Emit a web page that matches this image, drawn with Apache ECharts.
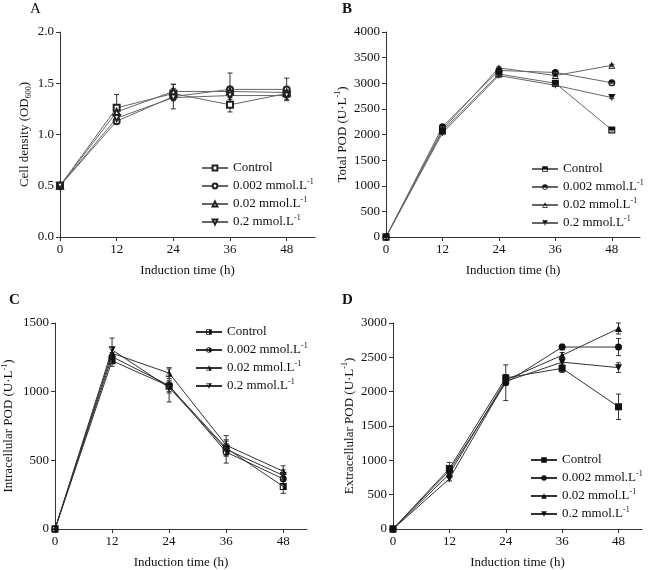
<!DOCTYPE html>
<html>
<head>
<meta charset="utf-8">
<script src="https://cdn.jsdelivr.net/npm/echarts@6/dist/echarts.min.js"></script>
<style>
  html, body { margin: 0; padding: 0; background: #fff; }
  #main { width: 650px; height: 570px; }
</style>
</head>
<body>
<div id="main"></div>
<script>
// induction time (h)
var hours = [0, 12, 24, 36, 48];
var groups = ['Control', '0.002 mmol.L-1', '0.02 mmol.L-1', '0.2 mmol.L-1'];

// A: cell density (OD600)
var densityMean = [
    [0.5, 1.26, 1.40, 1.29, 1.40],
    [0.5, 1.13, 1.37, 1.44, 1.44],
    [0.5, 1.22, 1.42, 1.42, 1.41],
    [0.5, 1.16, 1.36, 1.38, 1.38]
];
var densityErr = [
    [0, 0.13, 0.05, 0.07, 0.04],
    [0, 0.03, 0.12, 0.16, 0.11],
    [0, 0.05, 0.07, 0.05, 0.03],
    [0, 0.04, 0.03, 0.04, 0.04]
];

// B: total POD (U·L-1)
var totalMean = [
    [0, 2070, 3180, 3000, 2090],
    [0, 2150, 3250, 3210, 3010],
    [0, 2100, 3300, 3150, 3350],
    [0, 2030, 3150, 2960, 2720]
];
var totalErr = [
    [0, 20, 20, 20, 20],
    [0, 20, 20, 20, 20],
    [0, 20, 20, 20, 20],
    [0, 20, 20, 20, 20]
];

// C: intracellular POD
var intraMean = [
    [0, 1225, 1040, 590, 310],
    [0, 1255, 1045, 560, 365],
    [0, 1280, 1135, 610, 420],
    [0, 1305, 1030, 580, 390]
];
var intraErr = [
    [0, 40, 40, 60, 50],
    [0, 30, 120, 80, 40],
    [0, 40, 40, 70, 40],
    [0, 85, 40, 40, 40]
];

// D: extracellular POD
var extraMean = [
    [0, 880, 2200, 2340, 1780],
    [0, 850, 2130, 2650, 2650],
    [0, 800, 2170, 2530, 2920],
    [0, 730, 2150, 2430, 2350]
];
var extraErr = [
    [0, 90, 50, 60, 185],
    [0, 50, 260, 40, 125],
    [0, 40, 60, 40, 80],
    [0, 30, 40, 50, 70]
];

var FONT = 'Liberation Serif';
var INK = '#111';

// half filled markers (outer shape minus a hole)
var SYM = {
    sqTop: 'path://M0,0H10V10H0Z M1.5,5V8.5H8.5V5Z',
    ciTop: 'path://M0,5A5,5,0,1,1,10,5A5,5,0,1,1,0,5Z M1.5,5A3.5,3.5,0,0,0,8.5,5Z',
    trTop: 'path://M5,0L10,10L0,10Z M3,5.5L1.9,8.6L8.1,8.6L7,5.5Z',
    itTop: 'path://M0,0L10,0L5,10Z M3.4,5L5,8L6.6,5Z',
    sqRight: 'path://M0,0H10V10H0Z M1.5,1.5V8.5H5V1.5Z',
    ciRight: 'path://M0,5A5,5,0,1,1,10,5A5,5,0,1,1,0,5Z M5,1.5A3.5,3.5,0,0,0,5,8.5Z',
    trRight: 'path://M5,0L10,10L0,10Z M4.6,2.5L1.3,8.8L4.6,8.8Z',
    itRight: 'path://M0,0L10,0L5,10Z M1.5,1.2L4.6,7.6L4.6,1.2Z'
};

var panels = [
    { key: 'A', mean: densityMean, err: densityErr, max: 2, step: 0.5, xMax: 54,
      grid: { left: 60, top: 32, width: 255, height: 205 },
      legend: { left: 201, top: 160 },
      yName: 'Cell density (OD{sub|600})', yGap: 27, fmt: function (v) { return v.toFixed(1); },
      symbols: [['emptyRect', 0], ['emptyCircle', 0], ['emptyTriangle', 0], ['emptyTriangle', 180]],
      hollow: true, line: '#666' },
    { key: 'B', mean: totalMean, err: totalErr, max: 4000, step: 500, xMax: 54,
      grid: { left: 386, top: 32, width: 254, height: 205 },
      legend: { left: 531, top: 161 },
      yName: 'Total POD (U·L{sup|-1})', yGap: 32, fmt: function (v) { return String(v); },
      symbols: [[SYM.sqTop, 0], [SYM.ciTop, 0], [SYM.trTop, 0], [SYM.itTop, 0]],
      hollow: false, line: '#666' },
    { key: 'C', mean: intraMean, err: intraErr, max: 1500, step: 500, xMax: 53,
      grid: { left: 53, top: 323, width: 254, height: 206 },
      legend: { left: 195, top: 324 },
      yName: 'Intracellular POD (U·L{sup|-1})', yGap: 38, fmt: function (v) { return String(v); },
      symbols: [[SYM.sqRight, 0], [SYM.ciRight, 0], [SYM.trRight, 0], [SYM.itRight, 0]],
      hollow: false, line: '#333' },
    { key: 'D', mean: extraMean, err: extraErr, max: 3000, step: 500, xMax: 53,
      grid: { left: 393, top: 323, width: 249, height: 206 },
      legend: { left: 530, top: 452 },
      yName: 'Extracellular POD (U·L{sup|-1})', yGap: 29, fmt: function (v) { return String(v); },
      symbols: [['rect', 0], ['circle', 0], ['triangle', 0], ['triangle', 180]],
      hollow: false, line: '#333' }
];

var richText = {
    sup: { fontSize: 8, fontFamily: FONT, color: INK, verticalAlign: 'top', lineHeight: 16 },
    sub: { fontSize: 8, fontFamily: FONT, color: INK, verticalAlign: 'bottom', lineHeight: 16 }
};

function errorBars(params, api) {
    var x = api.value(0), y = api.value(1), e = api.value(2);
    if (!e) return;
    var hi = api.coord([x, y + e]);
    var lo = api.coord([x, y - e]);
    var cap = 2.5;
    var st = { stroke: '#333', lineWidth: 1 };
    return {
        type: 'group',
        children: [
            { type: 'line', shape: { x1: hi[0], y1: hi[1], x2: lo[0], y2: lo[1] }, style: st },
            { type: 'line', shape: { x1: hi[0] - cap, y1: hi[1], x2: hi[0] + cap, y2: hi[1] }, style: st },
            { type: 'line', shape: { x1: lo[0] - cap, y1: lo[1], x2: lo[0] + cap, y2: lo[1] }, style: st }
        ]
    };
}

var option = {
    animation: false,
    backgroundColor: '#fff',
    textStyle: { fontFamily: FONT, color: INK },
    title: [],
    grid: [],
    xAxis: [],
    yAxis: [],
    legend: [],
    series: []
};

var titlePos = [[30, 2], [342, 2], [9, 293], [342, 293]];

panels.forEach(function (p, i) {
    option.title.push({
        text: p.key, left: titlePos[i][0], top: titlePos[i][1], padding: 0,
        textStyle: { fontFamily: FONT, fontSize: 15, color: INK, fontWeight: i === 0 ? 'normal' : 'bold' }
    });
    option.grid.push(p.grid);
    option.xAxis.push({
        type: 'value', gridIndex: i, min: 0, max: p.xMax,
        name: 'Induction time (h)', nameLocation: 'middle', nameGap: 27,
        nameTextStyle: { fontFamily: FONT, fontSize: 13, color: INK },
        axisLine: { lineStyle: { color: '#333', width: 1 } },
        axisTick: { length: 4, customValues: hours, lineStyle: { color: '#333' } },
        axisLabel: { customValues: hours, margin: 6, fontFamily: FONT, fontSize: 13, color: INK },
        splitLine: { show: false }
    });
    option.yAxis.push({
        type: 'value', gridIndex: i, min: 0, max: p.max, interval: p.step,
        name: p.yName, nameLocation: 'middle', nameGap: p.yGap,
        nameTextStyle: { fontFamily: FONT, fontSize: 13, color: INK, lineHeight: 16, rich: richText },
        axisLine: { show: true, lineStyle: { color: '#333', width: 1 } },
        axisTick: { show: true, length: 4, lineStyle: { color: '#333' } },
        axisLabel: { margin: 6, fontFamily: FONT, fontSize: 13, color: INK, formatter: p.fmt },
        splitLine: { show: false }
    });
    var names = groups.map(function (g) { return p.key + '|' + g; });
    option.legend.push({
        data: names, orient: 'vertical', left: p.legend.left, top: p.legend.top,
        padding: 0, itemWidth: 26, itemHeight: p.hollow ? 6 : 7, itemGap: 2,
        textStyle: { fontFamily: FONT, fontSize: 13, color: INK, lineHeight: 16, rich: richText },
        formatter: function (name) {
            return name.split('|')[1].replace('L-1', 'L{sup|-1}');
        },
        selectedMode: false
    });
    names.forEach(function (n, j) {
        var data = hours.map(function (h, k) { return [h, p.mean[j][k]]; });
        var errData = hours.map(function (h, k) { return [h, p.mean[j][k], p.err[j][k]]; });
        option.series.push({
            type: 'custom', xAxisIndex: i, yAxisIndex: i, z: 1,
            renderItem: errorBars, data: errData, silent: true
        });
        option.series.push({
            name: n, type: 'line', xAxisIndex: i, yAxisIndex: i, z: 3,
            data: data,
            symbol: p.symbols[j][0], symbolRotate: p.symbols[j][1], symbolSize: p.hollow ? 6 : 7,
            lineStyle: { color: p.line, width: 1 },
            itemStyle: p.hollow
                ? { color: '#222', borderColor: '#222', borderWidth: 1 }
                : { color: '#111', borderWidth: 0 }
        });
    });
});

var chart = echarts.init(document.getElementById('main'), null, { renderer: 'canvas' });
chart.setOption(option);
</script>
</body>
</html>
